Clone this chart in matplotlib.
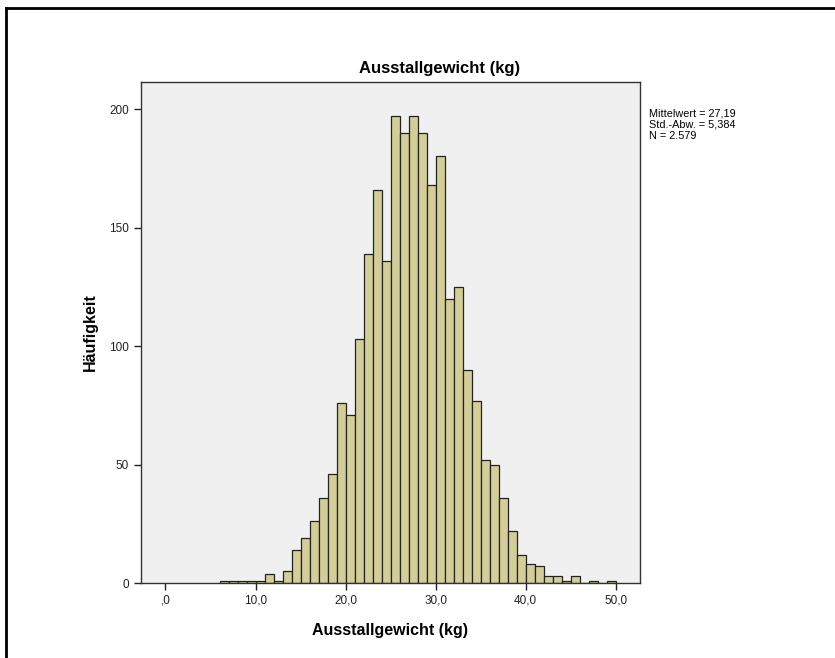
import numpy as np
import matplotlib.pyplot as plt
from matplotlib.lines import Line2D

plt.rcParams['font.family'] = ['Liberation Sans', 'DejaVu Sans']

# Histogram data (bins of 1 kg, left edges)
bin_left = np.arange(6, 50)
counts = [1, 1, 1, 1, 1, 4, 1, 5, 14, 19,
          26, 36, 46, 76, 71, 103, 139, 166, 136, 197,
          190, 197, 190, 168, 180, 120, 125, 90, 77, 52,
          50, 36, 22, 12, 8, 7, 3, 3, 1, 3,
          0, 1, 0, 1]
xticks = [0, 10, 20, 30, 40, 50]
xticklabels = [',0', '10,0', '20,0', '30,0', '40,0', '50,0']
yticks = [0, 50, 100, 150, 200]
stats_text = 'Mittelwert = 27,19\nStd.-Abw. = 5,384\nN = 2.579'

W, H = 835, 658
fig = plt.figure(figsize=(W / 100, H / 100), dpi=100)
ax = fig.add_axes([141 / W, 1 - 583 / H, 499 / W, 501 / H])
ax.set_facecolor('#f0f0f0')

ax.bar(bin_left, counts, width=1, align='edge', color='#d3ce98',
       edgecolor='#222222', linewidth=0.9)

ax.set_xlim(-2.72, 52.7)
ax.set_ylim(0, 211.4)
ax.set_xticks(xticks)
ax.set_xticklabels(xticklabels)
ax.set_yticks(yticks)
ax.tick_params(direction='out', length=5, width=1, labelsize=8.5, colors='#222222')
for s in ['top', 'right', 'left', 'bottom']:
    ax.spines[s].set_color('#333333')
    ax.spines[s].set_linewidth(1)

ax.set_xlabel('Ausstallgewicht (kg)', fontsize=11.5, fontweight='bold', labelpad=12)
ax.set_ylabel('Häufigkeit', fontsize=11.5, fontweight='bold', labelpad=8)

fig.text(440 / W, 1 - 68 / H, 'Ausstallgewicht (kg)', ha='center', va='center',
         fontsize=12, fontweight='bold')
fig.text(649 / W, 1 - 109 / H, stats_text, ha='left', va='top', fontsize=7.8,
         linespacing=1.12)

# outer frame (top and left edges)
fig.add_artist(Line2D([6 / W, 1], [1 - 8 / H, 1 - 8 / H], color='black', lw=2,
                      transform=fig.transFigure))
fig.add_artist(Line2D([6 / W, 6 / W], [0, 1 - 8 / H], color='black', lw=2,
                      transform=fig.transFigure))

fig.savefig('out.png', dpi=100)
